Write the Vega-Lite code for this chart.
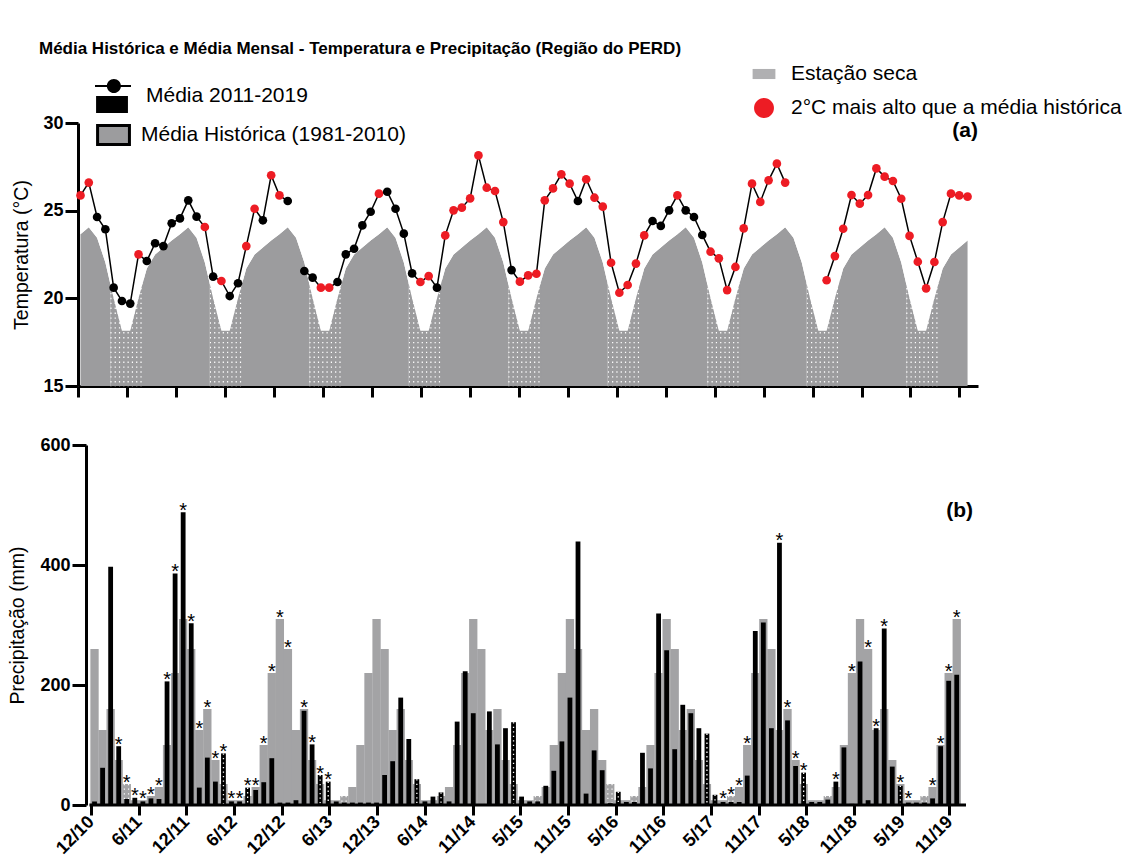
{
  "$schema": "https://vega.github.io/schema/vega-lite/v6.json",
  "background": "white",
  "padding": {"left": 7, "top": 40, "right": 0, "bottom": 0},
  "title": {"text": "Média Histórica e Média Mensal - Temperatura e Precipitação (Região do PERD)", "anchor": "start", "fontSize": 17, "fontWeight": "bold", "font": "Liberation Sans", "color": "black", "dx": 31, "offset": 4},
  "spacing": 33,
  "datasets": {
    "temp": [
      {"mes":0,"temp":25.87,"hist":23.65,"grupo":"a","seg":0},
      {"mes":1,"temp":26.6,"hist":24.05,"grupo":"a","seg":0},
      {"mes":2,"temp":24.64,"hist":23.45,"grupo":"n","seg":0},
      {"mes":3,"temp":23.94,"hist":22.05,"grupo":"n","seg":0},
      {"mes":4,"temp":20.61,"hist":20.0,"grupo":"n","seg":0},
      {"mes":5,"temp":19.85,"hist":18.15,"grupo":"n","seg":0},
      {"mes":6,"temp":19.7,"hist":18.15,"grupo":"n","seg":0},
      {"mes":7,"temp":22.51,"hist":20.0,"grupo":"a","seg":0},
      {"mes":8,"temp":22.13,"hist":21.7,"grupo":"n","seg":0},
      {"mes":9,"temp":23.14,"hist":22.5,"grupo":"n","seg":0},
      {"mes":10,"temp":22.98,"hist":22.9,"grupo":"n","seg":0},
      {"mes":11,"temp":24.28,"hist":23.3,"grupo":"n","seg":0},
      {"mes":12,"temp":24.56,"hist":23.65,"grupo":"n","seg":0},
      {"mes":13,"temp":25.59,"hist":24.05,"grupo":"n","seg":0},
      {"mes":14,"temp":24.66,"hist":23.45,"grupo":"n","seg":0},
      {"mes":15,"temp":24.07,"hist":22.05,"grupo":"a","seg":0},
      {"mes":16,"temp":21.24,"hist":20.0,"grupo":"n","seg":0},
      {"mes":17,"temp":20.99,"hist":18.15,"grupo":"a","seg":0},
      {"mes":18,"temp":20.13,"hist":18.15,"grupo":"n","seg":0},
      {"mes":19,"temp":20.86,"hist":20.0,"grupo":"n","seg":0},
      {"mes":20,"temp":22.98,"hist":21.7,"grupo":"a","seg":0},
      {"mes":21,"temp":25.11,"hist":22.5,"grupo":"a","seg":0},
      {"mes":22,"temp":24.45,"hist":22.9,"grupo":"n","seg":0},
      {"mes":23,"temp":27.02,"hist":23.3,"grupo":"a","seg":0},
      {"mes":24,"temp":25.87,"hist":23.65,"grupo":"a","seg":0},
      {"mes":25,"temp":25.55,"hist":24.05,"grupo":"n","seg":0},
      {"mes":26,"temp":null,"hist":23.45,"grupo":"n","seg":0},
      {"mes":27,"temp":21.56,"hist":22.05,"grupo":"n","seg":1},
      {"mes":28,"temp":21.18,"hist":20.0,"grupo":"n","seg":1},
      {"mes":29,"temp":20.61,"hist":18.15,"grupo":"a","seg":1},
      {"mes":30,"temp":20.61,"hist":18.15,"grupo":"a","seg":1},
      {"mes":31,"temp":20.93,"hist":20.0,"grupo":"n","seg":1},
      {"mes":32,"temp":22.51,"hist":21.7,"grupo":"n","seg":1},
      {"mes":33,"temp":22.83,"hist":22.5,"grupo":"n","seg":1},
      {"mes":34,"temp":24.16,"hist":22.9,"grupo":"n","seg":1},
      {"mes":35,"temp":24.94,"hist":23.3,"grupo":"n","seg":1},
      {"mes":36,"temp":25.97,"hist":23.65,"grupo":"a","seg":1},
      {"mes":37,"temp":26.08,"hist":24.05,"grupo":"n","seg":1},
      {"mes":38,"temp":25.11,"hist":23.45,"grupo":"n","seg":1},
      {"mes":39,"temp":23.69,"hist":22.05,"grupo":"n","seg":1},
      {"mes":40,"temp":21.42,"hist":20.0,"grupo":"n","seg":1},
      {"mes":41,"temp":20.93,"hist":18.15,"grupo":"a","seg":1},
      {"mes":42,"temp":21.27,"hist":18.15,"grupo":"a","seg":1},
      {"mes":43,"temp":20.61,"hist":20.0,"grupo":"n","seg":1},
      {"mes":44,"temp":23.59,"hist":21.7,"grupo":"a","seg":1},
      {"mes":45,"temp":25.02,"hist":22.5,"grupo":"a","seg":1},
      {"mes":46,"temp":25.17,"hist":22.9,"grupo":"a","seg":1},
      {"mes":47,"temp":25.7,"hist":23.3,"grupo":"a","seg":1},
      {"mes":48,"temp":28.15,"hist":23.65,"grupo":"a","seg":1},
      {"mes":49,"temp":26.31,"hist":24.05,"grupo":"a","seg":1},
      {"mes":50,"temp":26.12,"hist":23.45,"grupo":"a","seg":1},
      {"mes":51,"temp":24.35,"hist":22.05,"grupo":"a","seg":1},
      {"mes":52,"temp":21.61,"hist":20.0,"grupo":"n","seg":1},
      {"mes":53,"temp":20.95,"hist":18.15,"grupo":"a","seg":1},
      {"mes":54,"temp":21.31,"hist":18.15,"grupo":"a","seg":1},
      {"mes":55,"temp":21.4,"hist":20.0,"grupo":"a","seg":1},
      {"mes":56,"temp":25.59,"hist":21.7,"grupo":"a","seg":1},
      {"mes":57,"temp":26.27,"hist":22.5,"grupo":"a","seg":1},
      {"mes":58,"temp":27.07,"hist":22.9,"grupo":"a","seg":1},
      {"mes":59,"temp":26.54,"hist":23.3,"grupo":"a","seg":1},
      {"mes":60,"temp":25.55,"hist":23.65,"grupo":"n","seg":1},
      {"mes":61,"temp":26.79,"hist":24.05,"grupo":"a","seg":1},
      {"mes":62,"temp":25.74,"hist":23.45,"grupo":"a","seg":1},
      {"mes":63,"temp":25.23,"hist":22.05,"grupo":"a","seg":1},
      {"mes":64,"temp":22.03,"hist":20.0,"grupo":"a","seg":1},
      {"mes":65,"temp":20.32,"hist":18.15,"grupo":"a","seg":1},
      {"mes":66,"temp":20.76,"hist":18.15,"grupo":"a","seg":1},
      {"mes":67,"temp":21.98,"hist":20.0,"grupo":"a","seg":1},
      {"mes":68,"temp":23.59,"hist":21.7,"grupo":"a","seg":1},
      {"mes":69,"temp":24.41,"hist":22.5,"grupo":"n","seg":1},
      {"mes":70,"temp":24.13,"hist":22.9,"grupo":"n","seg":1},
      {"mes":71,"temp":25.02,"hist":23.3,"grupo":"n","seg":1},
      {"mes":72,"temp":25.87,"hist":23.65,"grupo":"a","seg":1},
      {"mes":73,"temp":25.02,"hist":24.05,"grupo":"n","seg":1},
      {"mes":74,"temp":24.64,"hist":23.45,"grupo":"n","seg":1},
      {"mes":75,"temp":23.61,"hist":22.05,"grupo":"n","seg":1},
      {"mes":76,"temp":22.66,"hist":20.0,"grupo":"a","seg":1},
      {"mes":77,"temp":22.28,"hist":18.15,"grupo":"a","seg":1},
      {"mes":78,"temp":20.47,"hist":18.15,"grupo":"a","seg":1},
      {"mes":79,"temp":21.79,"hist":20.0,"grupo":"a","seg":1},
      {"mes":80,"temp":23.99,"hist":21.7,"grupo":"a","seg":1},
      {"mes":81,"temp":26.54,"hist":22.5,"grupo":"a","seg":1},
      {"mes":82,"temp":25.5,"hist":22.9,"grupo":"a","seg":1},
      {"mes":83,"temp":26.73,"hist":23.3,"grupo":"a","seg":1},
      {"mes":84,"temp":27.68,"hist":23.65,"grupo":"a","seg":1},
      {"mes":85,"temp":26.6,"hist":24.05,"grupo":"a","seg":1},
      {"mes":86,"temp":null,"hist":23.45,"grupo":"n","seg":1},
      {"mes":87,"temp":null,"hist":22.05,"grupo":"n","seg":1},
      {"mes":88,"temp":null,"hist":20.0,"grupo":"n","seg":1},
      {"mes":89,"temp":null,"hist":18.15,"grupo":"n","seg":1},
      {"mes":90,"temp":21.03,"hist":18.15,"grupo":"a","seg":2},
      {"mes":91,"temp":22.41,"hist":20.0,"grupo":"a","seg":2},
      {"mes":92,"temp":23.97,"hist":21.7,"grupo":"a","seg":2},
      {"mes":93,"temp":25.89,"hist":22.5,"grupo":"a","seg":2},
      {"mes":94,"temp":25.4,"hist":22.9,"grupo":"a","seg":2},
      {"mes":95,"temp":25.89,"hist":23.3,"grupo":"a","seg":2},
      {"mes":96,"temp":27.41,"hist":23.65,"grupo":"a","seg":2},
      {"mes":97,"temp":26.94,"hist":24.05,"grupo":"a","seg":2},
      {"mes":98,"temp":26.69,"hist":23.45,"grupo":"a","seg":2},
      {"mes":99,"temp":25.68,"hist":22.05,"grupo":"a","seg":2},
      {"mes":100,"temp":23.56,"hist":20.0,"grupo":"a","seg":2},
      {"mes":101,"temp":22.09,"hist":18.15,"grupo":"a","seg":2},
      {"mes":102,"temp":20.57,"hist":18.15,"grupo":"a","seg":2},
      {"mes":103,"temp":22.07,"hist":20.0,"grupo":"a","seg":2},
      {"mes":104,"temp":24.35,"hist":21.7,"grupo":"a","seg":2},
      {"mes":105,"temp":25.97,"hist":22.5,"grupo":"a","seg":2},
      {"mes":106,"temp":25.87,"hist":22.9,"grupo":"a","seg":2},
      {"mes":107,"temp":25.8,"hist":23.3,"grupo":"a","seg":2}
    ],
    "seca": [
      {"ini":3.6,"fim":7.6,"meio":5.6},
      {"ini":15.6,"fim":19.6,"meio":17.6},
      {"ini":27.6,"fim":31.6,"meio":29.6},
      {"ini":39.6,"fim":43.6,"meio":41.6},
      {"ini":51.6,"fim":55.6,"meio":53.6},
      {"ini":63.6,"fim":67.6,"meio":65.6},
      {"ini":75.6,"fim":79.6,"meio":77.6},
      {"ini":87.6,"fim":91.6,"meio":89.6},
      {"ini":99.6,"fim":103.6,"meio":101.6}
    ],
    "prec": [
      {"mes":0,"obs":6,"hist":260,"star":false},
      {"mes":1,"obs":62,"hist":125,"star":false},
      {"mes":2,"obs":397,"hist":160,"star":false},
      {"mes":3,"obs":98,"hist":75,"star":true},
      {"mes":4,"obs":10,"hist":35,"star":true},
      {"mes":5,"obs":12,"hist":8,"star":true},
      {"mes":6,"obs":6,"hist":8,"star":true},
      {"mes":7,"obs":11,"hist":15,"star":true},
      {"mes":8,"obs":10,"hist":30,"star":true},
      {"mes":9,"obs":206,"hist":100,"star":true},
      {"mes":10,"obs":386,"hist":220,"star":true},
      {"mes":11,"obs":488,"hist":310,"star":true},
      {"mes":12,"obs":303,"hist":260,"star":true},
      {"mes":13,"obs":29,"hist":125,"star":true},
      {"mes":14,"obs":79,"hist":160,"star":true},
      {"mes":15,"obs":39,"hist":75,"star":true},
      {"mes":16,"obs":86,"hist":35,"star":true},
      {"mes":17,"obs":6,"hist":8,"star":true},
      {"mes":18,"obs":6,"hist":8,"star":true},
      {"mes":19,"obs":29,"hist":15,"star":true},
      {"mes":20,"obs":25,"hist":30,"star":true},
      {"mes":21,"obs":38,"hist":100,"star":true},
      {"mes":22,"obs":78,"hist":220,"star":true},
      {"mes":23,"obs":4,"hist":310,"star":true},
      {"mes":24,"obs":4,"hist":260,"star":true},
      {"mes":25,"obs":8,"hist":125,"star":false},
      {"mes":26,"obs":157,"hist":160,"star":true},
      {"mes":27,"obs":101,"hist":75,"star":true},
      {"mes":28,"obs":50,"hist":35,"star":true},
      {"mes":29,"obs":39,"hist":8,"star":true},
      {"mes":30,"obs":6,"hist":8,"star":false},
      {"mes":31,"obs":4,"hist":15,"star":false},
      {"mes":32,"obs":4,"hist":30,"star":false},
      {"mes":33,"obs":4,"hist":100,"star":false},
      {"mes":34,"obs":4,"hist":220,"star":false},
      {"mes":35,"obs":4,"hist":310,"star":false},
      {"mes":36,"obs":50,"hist":260,"star":false},
      {"mes":37,"obs":73,"hist":125,"star":false},
      {"mes":38,"obs":179,"hist":160,"star":false},
      {"mes":39,"obs":110,"hist":75,"star":false},
      {"mes":40,"obs":43,"hist":35,"star":false},
      {"mes":41,"obs":6,"hist":8,"star":false},
      {"mes":42,"obs":14,"hist":8,"star":false},
      {"mes":43,"obs":21,"hist":15,"star":false},
      {"mes":44,"obs":6,"hist":30,"star":false},
      {"mes":45,"obs":139,"hist":100,"star":false},
      {"mes":46,"obs":223,"hist":220,"star":false},
      {"mes":47,"obs":153,"hist":310,"star":false},
      {"mes":48,"obs":0,"hist":260,"star":false},
      {"mes":49,"obs":156,"hist":125,"star":false},
      {"mes":50,"obs":101,"hist":160,"star":false},
      {"mes":51,"obs":128,"hist":75,"star":false},
      {"mes":52,"obs":138,"hist":35,"star":false},
      {"mes":53,"obs":14,"hist":8,"star":false},
      {"mes":54,"obs":6,"hist":8,"star":false},
      {"mes":55,"obs":6,"hist":15,"star":false},
      {"mes":56,"obs":32,"hist":30,"star":false},
      {"mes":57,"obs":57,"hist":100,"star":false},
      {"mes":58,"obs":106,"hist":220,"star":false},
      {"mes":59,"obs":179,"hist":310,"star":false},
      {"mes":60,"obs":439,"hist":260,"star":false},
      {"mes":61,"obs":19,"hist":125,"star":false},
      {"mes":62,"obs":91,"hist":160,"star":false},
      {"mes":63,"obs":58,"hist":75,"star":false},
      {"mes":64,"obs":3,"hist":35,"star":false},
      {"mes":65,"obs":22,"hist":8,"star":false},
      {"mes":66,"obs":5,"hist":8,"star":false},
      {"mes":67,"obs":5,"hist":15,"star":false},
      {"mes":68,"obs":87,"hist":30,"star":false},
      {"mes":69,"obs":61,"hist":100,"star":false},
      {"mes":70,"obs":319,"hist":220,"star":false},
      {"mes":71,"obs":258,"hist":310,"star":false},
      {"mes":72,"obs":93,"hist":260,"star":false},
      {"mes":73,"obs":167,"hist":125,"star":false},
      {"mes":74,"obs":153,"hist":160,"star":false},
      {"mes":75,"obs":128,"hist":75,"star":false},
      {"mes":76,"obs":119,"hist":35,"star":false},
      {"mes":77,"obs":17,"hist":8,"star":false},
      {"mes":78,"obs":5,"hist":8,"star":true},
      {"mes":79,"obs":5,"hist":15,"star":true},
      {"mes":80,"obs":5,"hist":30,"star":true},
      {"mes":81,"obs":49,"hist":100,"star":true},
      {"mes":82,"obs":290,"hist":220,"star":false},
      {"mes":83,"obs":304,"hist":310,"star":false},
      {"mes":84,"obs":128,"hist":260,"star":false},
      {"mes":85,"obs":437,"hist":125,"star":true},
      {"mes":86,"obs":141,"hist":160,"star":true},
      {"mes":87,"obs":65,"hist":75,"star":true},
      {"mes":88,"obs":54,"hist":35,"star":true},
      {"mes":89,"obs":5,"hist":8,"star":false},
      {"mes":90,"obs":5,"hist":8,"star":false},
      {"mes":91,"obs":9,"hist":15,"star":false},
      {"mes":92,"obs":39,"hist":30,"star":true},
      {"mes":93,"obs":96,"hist":100,"star":false},
      {"mes":94,"obs":2,"hist":220,"star":true},
      {"mes":95,"obs":239,"hist":310,"star":false},
      {"mes":96,"obs":8,"hist":260,"star":true},
      {"mes":97,"obs":128,"hist":125,"star":true},
      {"mes":98,"obs":294,"hist":160,"star":true},
      {"mes":99,"obs":64,"hist":75,"star":false},
      {"mes":100,"obs":32,"hist":35,"star":true},
      {"mes":101,"obs":4,"hist":8,"star":true},
      {"mes":102,"obs":4,"hist":8,"star":false},
      {"mes":103,"obs":4,"hist":15,"star":false},
      {"mes":104,"obs":11,"hist":30,"star":true},
      {"mes":105,"obs":98,"hist":100,"star":true},
      {"mes":106,"obs":207,"hist":220,"star":true},
      {"mes":107,"obs":217,"hist":310,"star":true}
    ]
  },
  "vconcat": [
    {
      "width": 900,
      "height": 263,
      "layer": [
        {
          "data": {"name": "temp"},
          "mark": {"type": "area", "opacity": 1},
          "encoding": {
            "x": {"field": "mes", "type": "quantitative", "scale": {"domain": [-0.3, 108.26], "nice": false, "zero": false},
              "axis": {"values": [-0.24, 5.66, 11.57, 17.47, 23.37, 29.28, 35.18, 41.08, 46.98, 52.89, 58.79, 64.69, 70.6, 76.5, 82.4, 88.31, 94.21, 100.11, 106.01], "labels": false, "tickSize": 11, "title": null}},
            "y": {"field": "hist", "type": "quantitative", "scale": {"domain": [15, 30], "nice": false, "zero": false},
              "axis": {"values": [15, 20, 25, 30], "title": "Temperatura (°C)", "titleFontSize": 19.5, "titleFontWeight": "normal", "labelFontSize": 18, "labelFontWeight": "bold", "tickSize": 13, "labelPadding": 2, "titlePadding": 11}},
            "y2": {"datum": 15},
            "fill": {"datum": "Média Histórica (1981-2010)", "scale": {"range": ["#9c9c9e"]},
              "legend": {"orient": "none", "legendX": 17, "legendY": -8, "title": null, "symbolType": "M-0.94,-0.5H0.83V0.55H-0.94Z", "symbolSize": 1296, "symbolStrokeColor": "black", "symbolStrokeWidth": 3, "symbolOpacity": 1, "labelOffset": 7, "labelFontSize": 21, "labelLimit": 600, "padding": 0, "zindex": 1}}
          }
        },
        {
          "data": {"name": "seca"},
          "mark": {"type": "rule", "stroke": "white", "strokeWidth": 123},
          "encoding": {
            "x": {"field": "ini", "type": "quantitative"},
            "x2": {"field": "fim"},
            "y": {"datum": 18.5},
            "strokeDash": {"datum": "Estação seca", "scale": {"range": [[1.2, 3.1]]},
              "legend": {"orient": "none", "legendX": 674, "legendY": -61, "title": null, "symbolType": "M-0.95,-0.42H0.95V0.42H-0.95Z", "symbolSize": 576, "symbolFillColor": "#b0b0b2", "symbolStrokeColor": "#b0b0b2", "symbolStrokeWidth": 0, "symbolOpacity": 1, "labelOffset": 15, "labelFontSize": 21, "labelLimit": 600, "padding": 0, "zindex": 1}}
          }
        },
        {
          "data": {"name": "seca"},
          "mark": {"type": "rule", "stroke": "#9c9c9e", "strokeWidth": 33.2, "strokeDash": [3.5, 1.4]},
          "encoding": {
            "x": {"field": "meio", "type": "quantitative"},
            "y": {"datum": 15},
            "y2": {"datum": 22}
          }
        },
        {
          "data": {"name": "temp"},
          "mark": {"type": "area", "fill": "white", "opacity": 1},
          "encoding": {
            "x": {"field": "mes", "type": "quantitative"},
            "y": {"field": "hist", "type": "quantitative"},
            "y2": {"datum": 30}
          }
        },
        {
          "data": {"name": "temp"},
          "mark": {"type": "line", "strokeWidth": 1.5},
          "encoding": {
            "x": {"field": "mes", "type": "quantitative"},
            "y": {"field": "temp", "type": "quantitative"},
            "detail": {"field": "seg", "type": "nominal"},
            "stroke": {"datum": "Média 2011-2019", "scale": {"range": ["black"]},
              "legend": {"orient": "none", "legendX": 17, "legendY": -45, "title": null, "symbolType": "M-1,-0.61H1V-0.5H-1ZM-0.34,-0.555A0.39,0.39 0 1 1 0.44,-0.555A0.39,0.39 0 1 1 -0.34,-0.555ZM-0.94,0H0.83V0.94H-0.94Z", "symbolSize": 1296, "symbolFillColor": "black", "symbolStrokeWidth": 0, "symbolOpacity": 1, "labelOffset": 15, "labelFontSize": 21, "labelLimit": 600, "padding": 0, "zindex": 1}}
          }
        },
        {
          "data": {"name": "temp"},
          "mark": {"type": "point", "filled": true, "size": 75, "opacity": 1},
          "encoding": {
            "x": {"field": "mes", "type": "quantitative"},
            "y": {"field": "temp", "type": "quantitative"},
            "color": {"field": "grupo", "type": "nominal", "scale": {"domain": ["a", "n"], "range": ["#ed1c24", "black"]},
              "legend": {"orient": "none", "legendX": 674, "legendY": -27, "title": null, "values": ["a"],
                "labelExpr": "'2°C mais alto que a média histórica'",
                "symbolType": "M-0.83,0A0.83,0.83 0 1 1 0.83,0A0.83,0.83 0 1 1 -0.83,0Z", "symbolSize": 576, "symbolStrokeWidth": 0, "symbolOpacity": 1, "labelOffset": 15, "labelFontSize": 21, "labelLimit": 600, "padding": 0, "zindex": 1}}
          }
        },
        {
          "data": {"values": [{}]},
          "mark": {"type": "text", "text": "(a)", "fontSize": 21, "fontWeight": "bold", "align": "right", "baseline": "middle", "color": "black"},
          "encoding": {"x": {"datum": 108.26}, "y": {"datum": 29.54}}
        }
      ],
      "resolve": {"scale": {"fill": "independent", "stroke": "independent", "color": "independent", "strokeDash": "independent"}}
    },
    {
      "width": 893,
      "height": 360,
      "data": {"name": "prec"},
      "layer": [
        {
          "mark": {"type": "bar", "width": 8.3, "color": "#a3a3a5"},
          "encoding": {
            "x": {"field": "mes", "type": "quantitative", "scale": {"domain": [-1.43, 108.15], "nice": false, "zero": false},
              "axis": {"values": [-0.44, 5.48, 11.4, 17.32, 23.24, 29.16, 35.07, 40.99, 46.91, 52.83, 58.75, 64.67, 70.59, 76.51, 82.43, 88.35, 94.26, 100.18, 106.1],
                "labelExpr": "['12/10','6/11','12/11','6/12','12/12','6/13','12/13','6/14','11/14','5/15','11/15','5/16','11/16','5/17','11/17','5/18','11/18','5/19','11/19'][round((datum.value + 0.44) / 5.919)]",
                "domain": false,
                "labelAngle": -45, "labelAlign": "right", "labelBaseline": "middle", "labelFontSize": 18, "labelFontWeight": "bold", "tickSize": 10, "labelPadding": 4, "labelFlush": false, "labelOverlap": false, "title": null}},
            "y": {"field": "hist", "type": "quantitative", "scale": {"domain": [0, 600], "nice": false},
              "axis": {"values": [0, 200, 400, 600], "offset": -8, "title": "Precipitação (mm)", "titleFontSize": 19.5, "titleFontWeight": "normal", "labelFontSize": 18, "labelFontWeight": "bold", "tickSize": 14, "labelPadding": 2, "titlePadding": 12}}
          }
        },
        {
          "transform": [{"filter": "datum.mes % 12 >= 4 && datum.mes % 12 <= 7 && datum.hist > datum.obs + 5"}],
          "mark": {"type": "rule", "stroke": "white", "strokeWidth": 1.2, "strokeDash": [1.2, 3.4], "xOffset": -2.4},
          "encoding": {
            "x": {"field": "mes", "type": "quantitative"},
            "y": {"field": "hist", "type": "quantitative"},
            "y2": {"field": "obs"}
          }
        },
        {
          "transform": [{"filter": "datum.mes % 12 >= 4 && datum.mes % 12 <= 7 && datum.hist > datum.obs + 5"}],
          "mark": {"type": "rule", "stroke": "white", "strokeWidth": 1.2, "strokeDash": [1.2, 3.4], "xOffset": 1.8},
          "encoding": {
            "x": {"field": "mes", "type": "quantitative"},
            "y": {"field": "hist", "type": "quantitative"},
            "y2": {"field": "obs"}
          }
        },
        {
          "mark": {"type": "bar", "width": 4.8, "color": "black"},
          "encoding": {
            "x": {"field": "mes", "type": "quantitative"},
            "y": {"field": "obs", "type": "quantitative"}
          }
        },
        {
          "transform": [{"filter": "datum.mes % 12 >= 4 && datum.mes % 12 <= 7 && datum.obs >= 15"}],
          "mark": {"type": "rule", "stroke": "white", "strokeWidth": 1.3, "strokeDash": [1.3, 3.2]},
          "encoding": {
            "x": {"field": "mes", "type": "quantitative"},
            "y": {"field": "obs", "type": "quantitative"},
            "y2": {"datum": 0}
          }
        },
        {
          "transform": [{"filter": "datum.star && datum.obs >= datum.hist"}],
          "mark": {"type": "text", "text": "*", "fontSize": 20, "baseline": "alphabetic", "dy": 4.5, "color": "black"},
          "encoding": {
            "x": {"field": "mes", "type": "quantitative"},
            "y": {"field": "obs", "type": "quantitative"}
          }
        },
        {
          "transform": [{"filter": "datum.star && datum.obs < datum.hist"}],
          "mark": {"type": "text", "text": "*", "fontSize": 20, "baseline": "alphabetic", "dy": 4.5, "color": "black"},
          "encoding": {
            "x": {"field": "mes", "type": "quantitative"},
            "y": {"field": "hist", "type": "quantitative"}
          }
        },
        {
          "data": {"values": [{}]},
          "mark": {"type": "rule", "strokeWidth": 3, "color": "black"},
          "encoding": {"x": {"datum": -0.63}, "x2": {"datum": 108.15}, "y": {"datum": 0}}
        },
        {
          "data": {"values": [{}]},
          "mark": {"type": "text", "text": "(b)", "fontSize": 21, "fontWeight": "bold", "align": "right", "baseline": "middle", "dx": 7, "color": "black"},
          "encoding": {"x": {"datum": 108.15}, "y": {"datum": 490}}
        }
      ]
    }
  ],
  "resolve": {"scale": {"x": "independent", "y": "independent"}},
  "config": {
    "font": "Liberation Sans",
    "view": {"stroke": null},
    "axis": {"domainColor": "black", "tickColor": "black", "labelColor": "black", "titleColor": "black", "domainWidth": 3, "tickWidth": 3, "grid": false, "labelFont": "Liberation Sans", "titleFont": "Liberation Sans", "zindex": 1},
    "legend": {"labelFont": "Liberation Sans", "labelColor": "black", "labelFontSize": 21, "labelLimit": 600}
  }
}
